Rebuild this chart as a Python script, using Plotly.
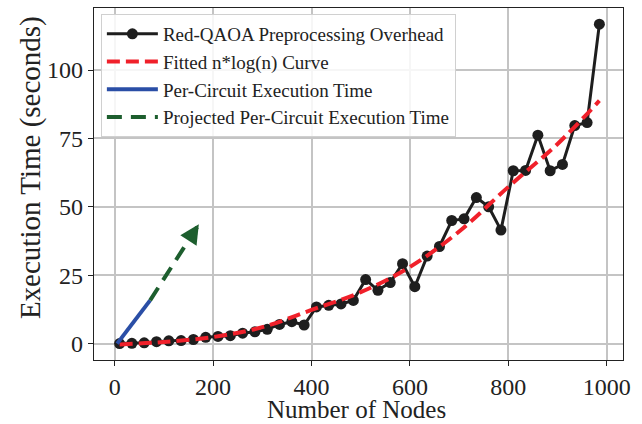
import plotly.graph_objects as go

# ---- data ----
nodes = [10, 35, 60, 85, 110, 135, 160, 185, 210, 235, 260, 285, 310, 335, 360,
         385, 410, 435, 460, 485, 510, 535, 560, 585, 610, 635, 660, 685, 710, 735,
         760, 785, 810, 835, 860, 885, 910, 935, 960, 985]
overhead = [0.0, 0.1, 0.3, 0.7, 1.0, 1.1, 1.5, 2.3, 2.6, 2.9, 3.8, 4.3, 5.2, 7.0, 8.0,
            6.8, 13.4, 14.0, 14.5, 15.8, 23.4, 19.5, 22.3, 29.2, 20.8, 32.0, 35.5, 45.0, 45.6, 53.4,
            50.0, 41.5, 63.2, 63.3, 76.2, 63.2, 65.5, 79.7, 80.8, 116.8]

fit_nodes = [10, 100, 200, 300, 400, 500, 600, 700, 800, 900, 985]
fit_values = [-0.3, 0.6, 2.4, 6.0, 12.3, 18.8, 28.0, 41.0, 57.3, 73.0, 88.8]

circuit_nodes = [5, 32, 72]
circuit_time = [0.0, 6.3, 15.8]

proj_nodes = [72, 171]
proj_time = [15.8, 43.6]

x_ticks = [0, 200, 400, 600, 800, 1000]
y_ticks = [0, 25, 50, 75, 100]

FONT = "Liberation Serif"
GREEN = "#1d5e2e"

fig = go.Figure()

fig.add_trace(go.Scatter(
    x=nodes, y=overhead, mode="lines+markers",
    name="Red-QAOA Preprocessing Overhead",
    line=dict(color="#1e1e1e", width=3),
    marker=dict(color="#1e1e1e", size=11),
    legendgroup="a"))

fig.add_trace(go.Scatter(
    x=fit_nodes, y=fit_values, mode="lines",
    name="Fitted n*log(n) Curve",
    line=dict(color="#f0202a", width=4, dash="13px,6px", shape="spline"),
    legendgroup="b"))

fig.add_trace(go.Scatter(
    x=circuit_nodes, y=circuit_time, mode="lines",
    name="Per-Circuit Execution Time",
    line=dict(color="#2a4ea6", width=4),
    legendgroup="c"))

fig.add_trace(go.Scatter(
    x=proj_nodes, y=proj_time, mode="lines",
    name="Projected Per-Circuit Execution Time",
    line=dict(color=GREEN, width=4, dash="15px,9px"),
    legendgroup="d"))

# arrow head at end of projection
tx, ty = proj_nodes[-1], proj_time[-1]
dx, dy = proj_nodes[-1] - proj_nodes[0], proj_time[-1] - proj_time[0]
fig.add_annotation(
    x=tx, y=ty, ax=tx - 0.12 * dx, ay=ty - 0.12 * dy,
    xref="x", yref="y", axref="x", ayref="y",
    text="", showarrow=True, arrowhead=2, arrowsize=1.1,
    arrowwidth=3.5, arrowcolor=GREEN)

# axis titles
fig.add_annotation(
    text="Execution Time (seconds)", textangle=-90,
    xref="paper", yref="paper", x=-0.121, y=0.548,
    xanchor="center", yanchor="middle", showarrow=False,
    font=dict(family=FONT, size=29, color="#222"))
fig.add_annotation(
    text="Number of Nodes",
    xref="paper", yref="paper", x=0.497, y=-0.1815,
    xanchor="center", yanchor="bottom", showarrow=False, borderpad=0,
    font=dict(family=FONT, size=25, color="#222"))

axis_common = dict(
    showline=True, linecolor="#222", linewidth=1.2, mirror=True,
    showgrid=True, gridcolor="#c4c4c4", gridwidth=1.5,
    ticks="outside", ticklen=5, tickwidth=1.2, tickcolor="#222",
    tickfont=dict(family=FONT, size=24, color="#222"),
    zeroline=False, automargin=False)

fig.update_xaxes(range=[-42, 1033], tickvals=x_ticks, **axis_common)
fig.update_yaxes(range=[-6.0, 122.7], tickvals=y_ticks, **axis_common)

fig.update_layout(
    width=642, height=424,
    margin=dict(l=94, r=19, t=8, b=64),
    paper_bgcolor="white", plot_bgcolor="white",
    font=dict(family=FONT, color="#222"),
    legend=dict(
        x=0.013, y=0.983, xanchor="left", yanchor="top",
        bgcolor="rgba(255,255,255,0.85)", bordercolor="#d0d0d0", borderwidth=1,
        font=dict(family=FONT, size=19, color="#222"),
        tracegroupgap=0, itemwidth=51),
)

fig.write_html("out.html", config={"displayModeBar": False},
               post_script="document.body.style.margin='0';")
